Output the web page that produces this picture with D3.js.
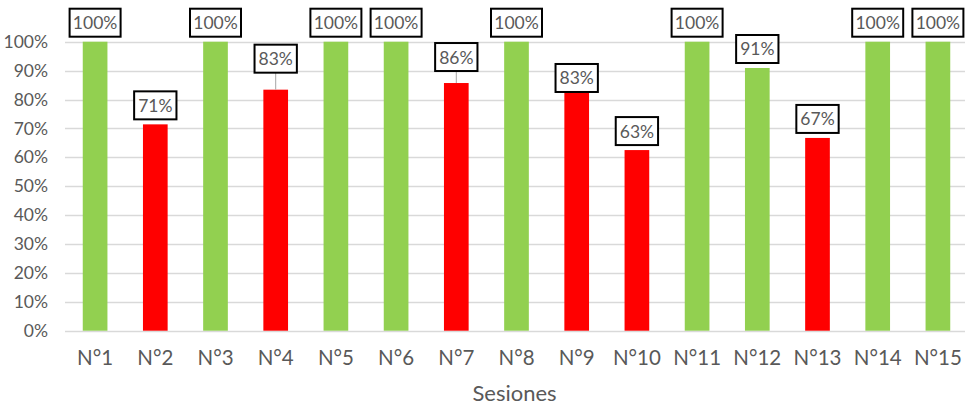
<!DOCTYPE html>
<html>
<head>
<meta charset="utf-8">
<script src="https://cdn.jsdelivr.net/npm/d3@7"></script>
<style>
  body { margin: 0; background: #fff; }
  svg { display: block; font-family: Lato, "Open Sans", sans-serif; }
</style>
</head>
<body>
<svg width="965" height="406"></svg>
<script>
// datos de las sesiones
var sesiones = ["N°1","N°2","N°3","N°4","N°5","N°6","N°7","N°8","N°9","N°10","N°11","N°12","N°13","N°14","N°15"];
var asistencia = [1, 0.714, 1, 0.834, 1, 1, 0.857, 1, 0.826, 0.625, 1, 0.909, 0.667, 1, 1];
var colores = ["#92D050","#FF0000","#92D050","#FF0000","#92D050","#92D050","#FF0000","#92D050","#FF0000","#FF0000","#92D050","#92D050","#FF0000","#92D050","#92D050"];
var yTicks = [0, 0.1, 0.2, 0.3, 0.4, 0.5, 0.6, 0.7, 0.8, 0.9, 1];

// etiquetas movidas a mano (px hacia arriba)
var labelLift = [0,0,0,12,0,0,7,0,-5,0,0,0,0,0,0];

var svg = d3.select('svg');
var plotLeft = 65, plotRight = 968, plotTop = 41.7, plotBottom = 330.7;

var x = d3.scaleBand().domain(sesiones).range([plotLeft, plotRight]).paddingInner(0.59).paddingOuter(0.295);
var y = d3.scaleLinear().domain([0, 1]).range([plotBottom, plotTop]);
var fmt = function(d){ return Math.round(d * 100) + "%"; };

// rejilla
svg.append('g').selectAll('line')
    .data(yTicks).enter().append('line')
    .attr('x1', plotLeft).attr('x2', 965)
    .attr('y1', function(d){ return Math.round(y(d)) + 0.5; })
    .attr('y2', function(d){ return Math.round(y(d)) + 0.5; })
    .attr('stroke', '#D9D9D9').attr('stroke-width', 1.3);

// eje y (solo textos)
var yAxis = svg.append('g').attr('transform', 'translate(' + (plotLeft - 17) + ',0)')
    .call(d3.axisLeft(y).tickValues(yTicks).tickFormat(d3.format('.0%')).tickSize(0).tickPadding(0));
yAxis.select('.domain').remove();
yAxis.selectAll('text').attr('fill', '#595959').style('font-size', '17.5px').style('font-family', 'Lato');

// barras
svg.append('g').selectAll('rect')
    .data(asistencia).enter().append('rect')
    .attr('x', function(d,i){ return x(sesiones[i]); })
    .attr('y', function(d){ return y(d); })
    .attr('width', x.bandwidth())
    .attr('height', function(d){ return y(0) - y(d); })
    .attr('fill', function(d,i){ return colores[i]; });

// eje x
var xAxis = svg.append('g').attr('transform', 'translate(0,' + plotBottom + ')')
    .call(d3.axisBottom(x).tickSize(0).tickPadding(0));
xAxis.select('.domain').remove();
xAxis.selectAll('text').attr('fill', '#595959').attr('dy', 0).attr('y', 34.5)
    .style('font-size', '20.5px').style('font-family', 'Lato');

svg.append('text').attr('x', (plotLeft + plotRight) / 2 - 2).attr('y', 401)
    .attr('text-anchor', 'middle').attr('fill', '#595959')
    .style('font-size', '22px').text('Sesiones');

// etiquetas de datos
var lab = svg.append('g').selectAll('g')
    .data(asistencia).enter().append('g');

lab.each(function(d, i){
    var g = d3.select(this);
    var cx = x(sesiones[i]) + x.bandwidth() / 2;
    var boxBottom = y(d) - 5 - labelLift[i];
    var h = 28;
    if (labelLift[i] > 5) {
        g.append('line').attr('x1', cx).attr('x2', cx)
            .attr('y1', boxBottom).attr('y2', y(d))
            .attr('stroke', '#A6A6A6').attr('stroke-width', 1);
    }
    var rect = g.append('rect');
    var t = g.append('text').attr('x', cx).attr('y', boxBottom - h / 2)
        .attr('text-anchor', 'middle').attr('dominant-baseline', 'central')
        .attr('fill', '#595959').style('font-size', '17.5px').text(fmt(d));
    var w = Math.min(t.node().getComputedTextLength() + 8, 51);
    rect.attr('x', cx - w / 2).attr('y', boxBottom - h).attr('width', w).attr('height', h)
        .attr('fill', '#fff').attr('stroke', '#000').attr('stroke-width', 2);
});
</script>
</body>
</html>
